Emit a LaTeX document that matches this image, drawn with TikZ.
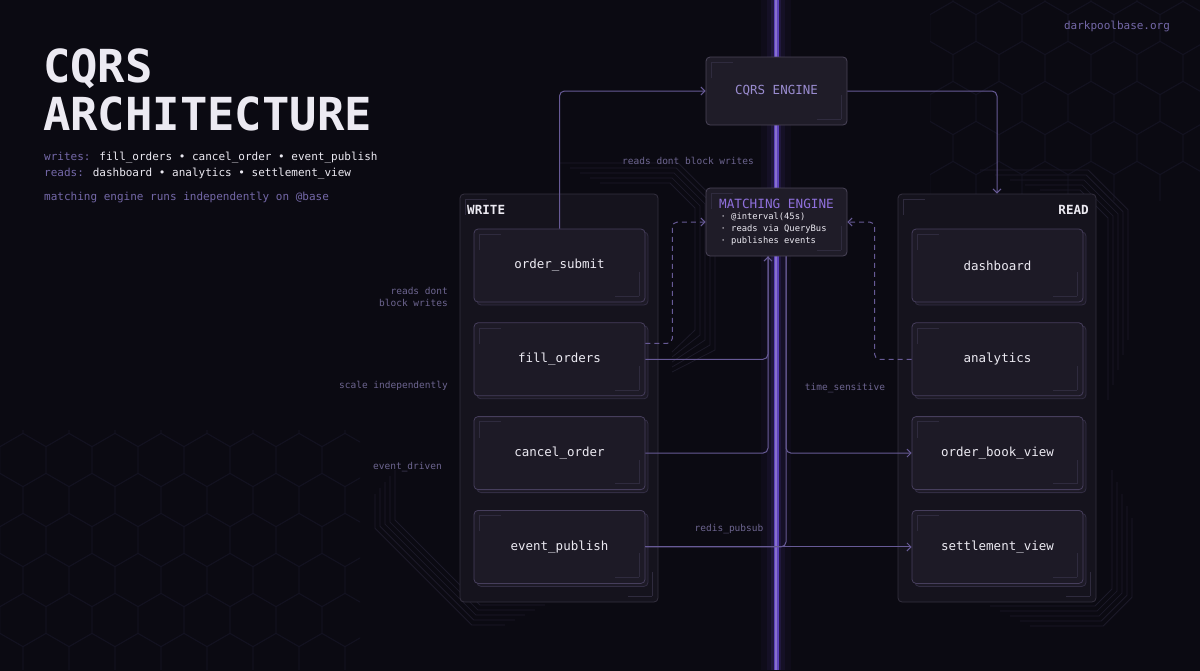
\documentclass[tikz,border=0pt]{standalone}
\usepackage{fontspec}
\setmainfont{DejaVu Sans Mono}
\usetikzlibrary{positioning}
\usetikzlibrary{calc}
\usetikzlibrary{arrows.meta}
\usetikzlibrary{shadows}

\definecolor{bgc}{HTML}{0B0A12}
\definecolor{hexc}{HTML}{131220}
\definecolor{tracec}{HTML}{1C1A29}
\definecolor{panelc}{HTML}{15131D}
\definecolor{panelline}{HTML}{34303F}
\definecolor{cardc}{HTML}{1D1A26}
\definecolor{cardline}{HTML}{463E5C}
\definecolor{markc}{HTML}{2F2B3E}
\definecolor{enginec}{HTML}{1F1C28}
\definecolor{engineline}{HTML}{4A4458}
\definecolor{spinec}{HTML}{5E42BC}
\definecolor{flowc}{HTML}{675A96}
\definecolor{labelc}{HTML}{6D6590}
\definecolor{subc}{HTML}{7468A8}
\definecolor{textc}{HTML}{ECEAF2}
\definecolor{accentc}{HTML}{8F70DC}
\definecolor{cqrsc}{HTML}{9A8CD0}

\tikzset{
  pics/hexcell/.style={
    code={
      \draw[pic actions] (30:26.5) -- (90:26.5) -- (150:26.5) -- (210:26.5) -- (270:26.5) -- (330:26.5) -- cycle;
    }
  },
  cornermarks/.style={
    path picture={
      \draw[markc, line width=0.5pt] ([shift={(5pt,-5pt)}]path picture bounding box.north west) -- ++(22pt,0pt);
      \draw[markc, line width=0.5pt] ([shift={(5pt,-5pt)}]path picture bounding box.north west) -- ++(0pt,-16pt);
      \draw[markc, line width=0.5pt] ([shift={(-6pt,6pt)}]path picture bounding box.south east) -- ++(0pt,24pt);
      \draw[markc, line width=0.5pt] ([shift={(-6pt,6pt)}]path picture bounding box.south east) -- ++(-24pt,0pt);
    }
  },
  panel/.style={draw=panelline, fill=panelc, rounded corners=4pt, line width=0.8pt,
    minimum width=198pt, minimum height=408pt, cornermarks},
  paneltitle/.style={inner sep=0pt, text=textc, font=\fontsize{12.6}{14}\selectfont\bfseries},
  card/.style={draw=cardline, fill=cardc, rounded corners=4pt, line width=0.8pt,
    minimum width=171pt, minimum height=73pt, text=textc, font=\fontsize{12.5}{14}\selectfont,
    copy shadow={shadow xshift=3pt, shadow yshift=-3pt, draw=cardline!60!panelc, fill=cardc},
    cornermarks},
  engine/.style={draw=engineline, fill=enginec, rounded corners=4pt, line width=0.8pt,
    minimum width=141pt, minimum height=68pt, cornermarks},
  flow/.style={draw=flowc, line width=1pt, rounded corners=5pt},
  dashflow/.style={flow, dash pattern=on 5pt off 4pt},
  flowarrow/.style={-{Straight Barb[length=4pt,width=8pt]}},
  note/.style={inner sep=0pt, text=labelc, font=\fontsize{9.5}{12}\selectfont},
}

\begin{document}
\begin{tikzpicture}[x=1pt, y=-1pt]
\useasboundingbox (0,0) rectangle (1200,670);
\fill[bgc] (-5,-5) rectangle (1205,675);

% hex backdrop
\begin{scope}
\clip (930,0) rectangle (1200,200);
\foreach \i in {0,...,6} \foreach \j in {0,...,5} {
  \pgfmathsetmacro\hx{930+\i*46+mod(\j,2)*23}
  \pgfmathsetmacro\hy{\j*40-12}
  \pic[draw=hexc, line width=0.8pt] at (\hx,\hy) {hexcell};
}
\end{scope}
\begin{scope}
\clip (0,430) rectangle (360,669);
\foreach \i in {0,...,8} \foreach \j in {0,...,6} {
  \pgfmathsetmacro\hx{\i*46+mod(\j,2)*23}
  \pgfmathsetmacro\hy{420+\j*40}
  \pic[draw=hexc, line width=0.8pt] at (\hx,\hy) {hexcell};
}
\end{scope}

% circuit traces
\foreach \k in {0,...,4} {
  \pgfmathsetmacro\d{5*\k}
  \draw[tracec, line width=0.8pt] (600-2*\d,183-\d) -- (670+0.414*\d,183-\d) -- (695+\d,208-0.414*\d) -- (695+\d,330+\d) -- (672,352+\d);
  \draw[tracec, line width=0.8pt] (395-\d,470+6*\k) -- (395-\d,520+0.414*\d) -- (480-0.414*\d,605+\d) -- (545-10*\k,605+\d);
  \draw[tracec, line width=0.8pt] (1040-3*\d,190-\d) -- (1080+0.414*\d,190-\d) -- (1108+\d,218-0.414*\d) -- (1108+\d,400-3*\d);
  \draw[tracec, line width=0.8pt] (990+2*\d,606+\d) -- (1095+0.414*\d,606+\d) -- (1112+\d,589+0.414*\d) -- (1112+\d,470+2.4*\d);
}

% glowing spine
\foreach \w/\o in {30/0.05, 18/0.08, 10/0.16} {
  \draw[spinec, line width=\w pt, opacity=\o] (776,0) -- (776,670);
}
\draw[spinec, line width=5pt] (776,0) -- (776,670);
\draw[spinec!75!white, line width=1.2pt] (776,0) -- (776,670);

% title block
\node[anchor=base west, inner sep=0pt, text=textc, font=\fontsize{45.5}{50}\selectfont\bfseries] (title1) at (43,82) {CQRS};
\node[anchor=base west, inner sep=0pt, text=textc, font=\fontsize{45.5}{50}\selectfont\bfseries] (title2) at (43,130) {ARCHITECTURE};
\node[anchor=base west, inner sep=0pt, text=textc, font=\fontsize{11}{13}\selectfont] (writesline) at (44,160) {\textcolor{subc}{writes:} fill\_orders • cancel\_order • event\_publish};
\node[anchor=base west, inner sep=0pt, text=textc, font=\fontsize{11}{13}\selectfont] (readsline) at (44,176) {\textcolor{subc}{reads:} dashboard • analytics • settlement\_view};
\node[anchor=base west, inner sep=0pt, text=subc, font=\fontsize{11}{13}\selectfont] (runsline) at (44,200) {matching engine runs independently on @base};
\node[inner sep=0pt, text=subc, font=\fontsize{11}{13}\selectfont] (site) at (1117,26) {darkpoolbase.org};

% panels
\node[panel] (writepanel) at (559,398) {};
\node[panel] (readpanel) at (997,398) {};
\node[paneltitle, anchor=base west] (writetitle) at (467,214) {WRITE};
\node[paneltitle, anchor=base east] (readtitle) at (1089,214) {READ};

% write side
\node[card] (submit) at (559.5,265.5) {order\_submit};
\node[card, below=20pt of submit] (fillorders) {fill\_orders};
\node[card, below=20pt of fillorders] (cancel) {cancel\_order};
\node[card, below=20pt of cancel] (publish) {event\_publish};

% read side
\node[card] (dash) at (997.5,265.5) {dashboard};
\node[card, below=20pt of dash] (analytics) {analytics};
\node[card, below=20pt of analytics] (bookview) {order\_book\_view};
\node[card, below=20pt of bookview] (settle) {settlement\_view};

% engines
\node[engine, text=cqrsc, font=\fontsize{12.5}{14}\selectfont] (cqrs) at (776.5,91) {CQRS ENGINE};
\node[engine, align=left, text=textc, font=\fontsize{8.8}{12}\selectfont] (matching) at (776.5,222)
  {{\fontsize{12.7}{14}\selectfont\color{accentc}MATCHING ENGINE}\\[-1pt]
   \,· @interval(45s)\\ \,· reads via QueryBus\\ \,· publishes events};

% connectors
\draw[flow, flowarrow] (submit.north) |- (cqrs.west);
\draw[flow, flowarrow] (cqrs.east) -| (readpanel.north);
\draw[flow, flowarrow] (fillorders.east) -| ([xshift=-8.5pt]matching.south);
\draw[flow] (cancel.east) -| ([xshift=-8.5pt]matching.south);
\draw[flow] (publish.east) -| ([xshift=9.5pt]matching.south);
\draw[flow, flowarrow] ([xshift=9.5pt]matching.south) |- (bookview.west);
\draw[flow, flowarrow] (publish.east) -- (settle.west);
\draw[dashflow, flowarrow] ([yshift=16pt]fillorders.east) -- ++(27,0) |- (matching.west);
\draw[dashflow, flowarrow] (analytics.west) -- ++(-37,0) |- (matching.east);

% side notes
\node[note] (noblock) at (688,161) {reads dont block writes};
\node[note, align=right, anchor=east] (noblock2) at (448,297) {reads dont\\block writes};
\node[note, anchor=east] (scaling) at (448,386) {scale independently};
\node[note, anchor=east] (driven) at (442,467) {event\_driven};
\node[note] (timing) at (845,388) {time\_sensitive};
\node[note] (pubsub) at (729,529) {redis\_pubsub};

\end{tikzpicture}
\end{document}
